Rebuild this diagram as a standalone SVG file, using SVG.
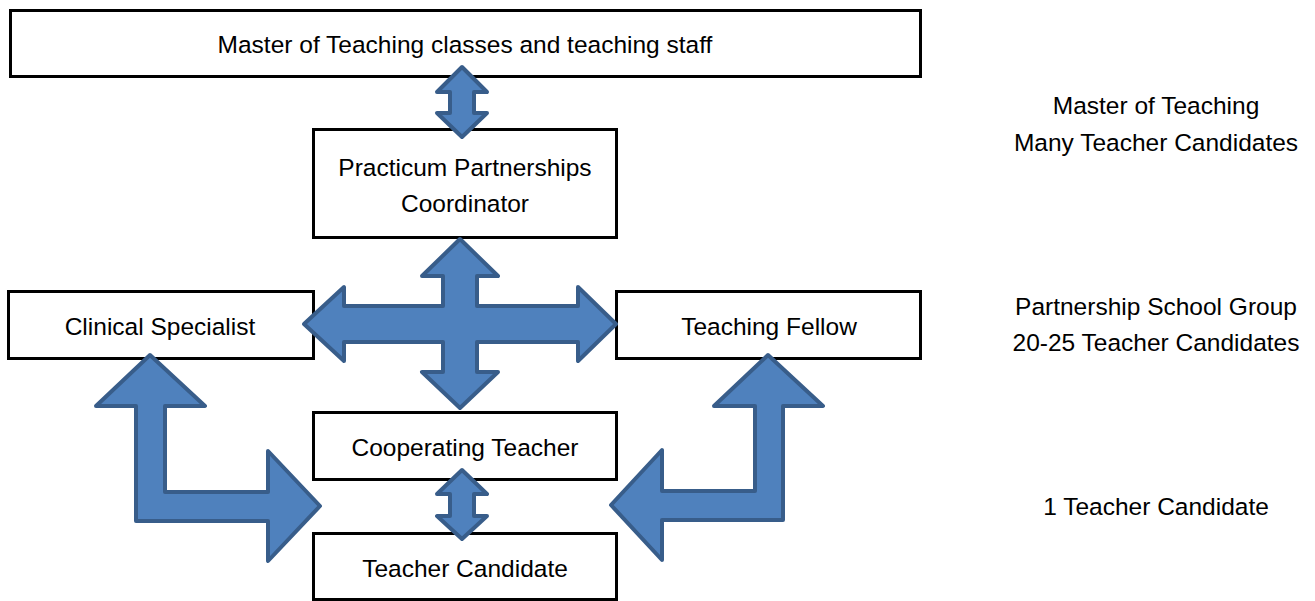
<svg xmlns="http://www.w3.org/2000/svg" width="1315" height="601" viewBox="0 0 1315 601">
<style>
.box{fill:#fff;stroke:#000;stroke-width:3}
.t{font-family:"Liberation Sans",Arial,sans-serif;font-size:24.5px;fill:#000;text-anchor:middle}
.arr{fill:#4f81bd;stroke:#385d8a;stroke-width:4;stroke-linejoin:round}
</style>
<rect width="1315" height="601" fill="#fff"/>
<g id="node-mot">
<rect class="box" x="10.5" y="10.5" width="910" height="66"/>
<text class="t" x="465" y="53">Master of Teaching classes and teaching staff</text>
</g>
<g id="node-ppc">
<rect class="box" x="313.5" y="129.5" width="303" height="108"/>
<text class="t" x="465" y="176">Practicum Partnerships</text>
<text class="t" x="465" y="212">Coordinator</text>
</g>
<g id="node-cs">
<rect class="box" x="8.5" y="291.5" width="305" height="67"/>
<text class="t" x="160" y="335">Clinical Specialist</text>
</g>
<g id="node-tf">
<rect class="box" x="616.5" y="291.5" width="304" height="67"/>
<text class="t" x="769" y="335">Teaching Fellow</text>
</g>
<g id="node-ct">
<rect class="box" x="313.5" y="412.5" width="303" height="67"/>
<text class="t" x="465" y="456">Cooperating Teacher</text>
</g>
<g id="node-tc">
<rect class="box" x="313.5" y="533.5" width="303" height="66"/>
<text class="t" x="465" y="577">Teacher Candidate</text>
</g>
<g id="connectors">
<path class="arr" d="M462,67 L487,92 L474,92 L474,113 L487,113 L462,137 L437,113 L450,113 L450,92 L437,92 Z"/>
<path class="arr" d="M460,239 L498,276 L477,276 L477,306 L578,306 L578,287 L616,324 L578,361 L578,342 L477,342 L477,372 L498,372 L460,408 L422,372 L443,372 L443,342 L344,342 L344,361 L304,324 L344,287 L344,306 L443,306 L443,276 L422,276 Z"/>
<path class="arr" d="M150,355 L205,406 L165,406 L165,492 L268,492 L268,451 L320,506 L268,561 L268,521 L136,521 L136,406 L96,406 Z"/>
<path class="arr" d="M768,355 L823,406 L783,406 L783,520 L662,520 L662,560 L611,505 L662,450 L662,491 L755,491 L755,406 L714,406 Z"/>
<path class="arr" d="M462,470 L487,494 L474,494 L474,516 L487,516 L462,539 L437,516 L450,516 L450,494 L437,494 Z"/>
</g>
<g id="levels">
<text class="t" x="1156" y="114">Master of Teaching</text>
<text class="t" x="1156" y="151">Many Teacher Candidates</text>
<text class="t" x="1156" y="315">Partnership School Group</text>
<text class="t" x="1156" y="351">20-25 Teacher Candidates</text>
<text class="t" x="1156" y="515">1 Teacher Candidate</text>
</g>
</svg>
